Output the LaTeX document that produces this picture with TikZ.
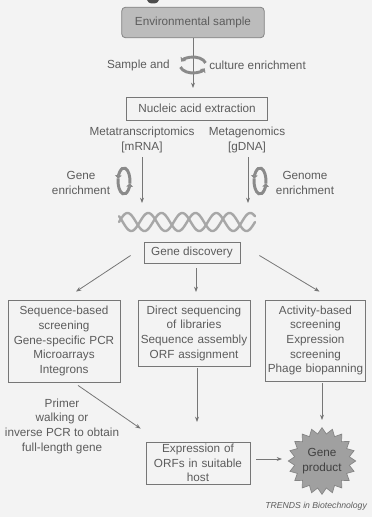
\documentclass[tikz,border=0pt]{standalone}
\usepackage{fontspec}
\setmainfont{Liberation Sans}
\usetikzlibrary{arrows.meta,shapes.symbols}
\definecolor{ink}{HTML}{5C5C5C}
\definecolor{edge}{HTML}{767676}
\definecolor{paper}{HTML}{F3F3F3}
\definecolor{boxfill}{HTML}{BCBCBC}
\definecolor{starfill}{HTML}{A0A0A0}
\definecolor{ring}{HTML}{8A8A8A}

\begin{document}
\begin{tikzpicture}[x=0.75pt,y=-0.75pt,
  font=\fontsize{8.8}{11}\selectfont, text=ink,
  box/.style={draw=edge, line width=0.6pt, align=center, inner sep=1pt},
  lbl/.style={align=center, inner sep=0pt},
  arr/.style={draw=edge, line width=0.6pt, -{Stealth[length=4pt,width=3pt]}},
  cyc/.style={draw=ring, line width=2.2pt, -{Triangle[length=2.6pt,width=5pt]}},
  helixline/.style={draw=ring!75, line width=1.8pt, line cap=round}
]
% page
\fill[paper] (0,0) rectangle (372,517);
\useasboundingbox (0,0) rectangle (372,517);

% edge of the element above, cut by the page
\fill[black!70] (153,0) ellipse[x radius=6, y radius=3.5];

% start of the workflow
\node[box, fill=boxfill, draw=edge!90, rounded corners=3pt,
      minimum width=107pt, minimum height=23pt] (env) at (193,22.5) {Environmental sample};

\node[box, minimum width=105.75pt, minimum height=17.25pt] (nucleic) at (197,108.5) {Nucleic acid extraction};
\coordinate (t0) at (193,88);
\draw[arr] (env.south) -- (t0);

% sample and culture enrichment cycle
\node[lbl, anchor=east] (samp) at (170,65) {Sample and};
\node[lbl, anchor=west] (cult) at (209,65) {culture enrichment};
\draw[cyc] (193,65) ++(165:13 and 8) arc[start angle=165, end angle=25, x radius=13, y radius=8];
\draw[cyc] (193,65) ++(345:13 and 8) arc[start angle=345, end angle=205, x radius=13, y radius=8];

% two routes
\node[lbl] (mt) at (142,140) {Metatranscriptomics\\{}[mRNA]};
\node[lbl] (mg) at (247,140) {Metagenomics\\{}[gDNA]};
\coordinate (hl) at (142,203);
\coordinate (hr) at (248,203);
\draw[arr] (mt.south -| hl) ++(0,4) -- (hl);
\draw[arr] (mg.south -| hr) ++(0,4) -- (hr);

\node[lbl] (genenr) at (81,183) {Gene\\enrichment};
\node[lbl] (genomenr) at (305,183) {Genome\\enrichment};
\foreach \cx in {124,260}{
  \draw[cyc] (\cx,181) ++(192:6 and 13) arc[start angle=192, end angle=10, x radius=6, y radius=13];
  \draw[cyc] (\cx,181) ++(12:6 and 13) arc[start angle=12, end angle=-170, x radius=6, y radius=13];
}

% DNA double helix
\draw[helixline] plot[domain=0:136, samples=140] ({119+\x},{222-9*sin(\x*10.588)});
\draw[helixline] plot[domain=0:136, samples=140] ({119+\x},{222-9*sin(\x*10.588+140)});

% gene discovery and the three strategies
\node[box, minimum width=72pt, minimum height=15.75pt] (gd) at (192,252.5) {Gene discovery};

\node[box, text width=82pt, minimum height=61.5pt] (lbox) at (64,341)
  {Sequence-based\\screening\\Gene-specific PCR\\Microarrays\\Integrons};
\node[box, text width=82pt, minimum height=49.5pt] (mbox) at (194,333)
  {Direct sequencing\\of libraries\\Sequence assembly\\ORF assignment};
\node[box, text width=73pt, minimum height=60.75pt] (rbox) at (315.5,340.5)
  {Activity-based\\screening\\Expression\\screening\\Phage biopanning};

\draw[arr] ([shift={(-13,3)}]gd.west) -- ([shift={(12,-8)}]lbox.north);
\coordinate (m1) at (196,292);
\draw[arr] (gd.south -| m1) ++(0,5) -- (m1);
\draw[arr] ([shift={(19,3)}]gd.east) -- ([shift={(4,-8)}]rbox.north);

% expression and gene product
\node[box, text width=76pt, minimum height=31.5pt] (exp) at (198,463) {Expression of\\ORFs in suitable\\host};
\node[starburst, starburst points=20, starburst point height=4.5pt, random starburst=0,
      fill=starfill, draw=edge!90, line width=0.5pt, align=center, inner sep=0pt,
      minimum width=50pt, minimum height=50pt, text=black!75] (star) at (322,461) {Gene\\product};

\node[lbl] (primer) at (62,426) {Primer\\walking or\\inverse PCR to obtain\\full-length gene};

\draw[arr] ([shift={(14,3)}]lbox.south) -- ([shift={(-5,-13)}]exp.north west);
\coordinate (m2) at (197,422);
\draw[arr] (mbox.south -| m2) ++(0,2) -- (m2);
\coordinate (r2) at (322,420);
\draw[arr] (rbox.south -| r2) ++(0,2) -- (r2);
\coordinate (s1) at (282,459);
\draw[arr] ([shift={(6,0)}]exp.east |- s1) -- (s1);

% source line
\node[lbl, anchor=west, font=\fontsize{6.5}{7}\selectfont\itshape] (src) at (265,506)
  {TRENDS in Biotechnology};
\end{tikzpicture}
\end{document}
